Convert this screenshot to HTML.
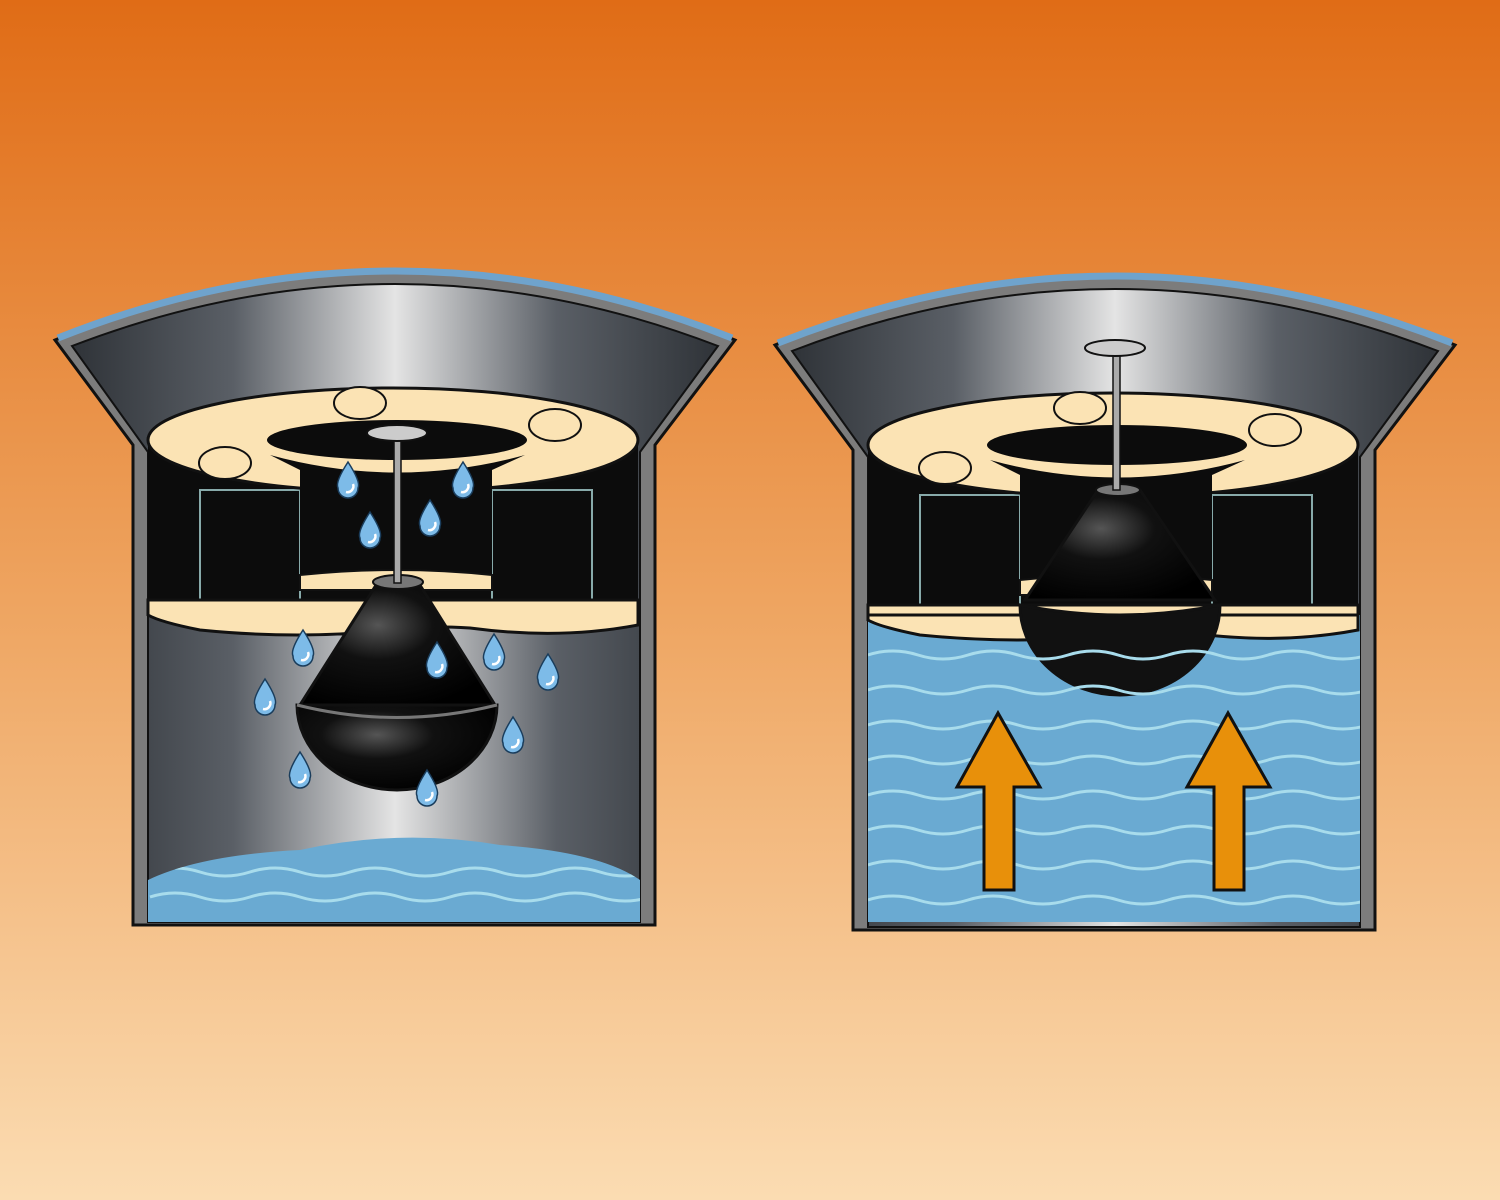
<!DOCTYPE html>
<html><head><meta charset="utf-8"><style>html,body{margin:0;padding:0;width:1500px;height:1200px;overflow:hidden}</style></head>
<body>
<svg width="1500" height="1200" viewBox="0 0 1500 1200" xmlns="http://www.w3.org/2000/svg">
<defs>
<linearGradient id="bg" x1="0" y1="0" x2="0" y2="1">
<stop offset="0" stop-color="#e06c16"/><stop offset="0.5" stop-color="#eea460"/><stop offset="1" stop-color="#fbdcb2"/>
</linearGradient>
<linearGradient id="inner" x1="0" y1="0" x2="1" y2="0">
<stop offset="0" stop-color="#2f3338"/><stop offset="0.25" stop-color="#5a5f66"/><stop offset="0.5" stop-color="#e4e4e4"/><stop offset="0.75" stop-color="#5a5f66"/><stop offset="1" stop-color="#2f3338"/>
</linearGradient>
<radialGradient id="ball" cx="0.4" cy="0.35" r="0.7">
<stop offset="0" stop-color="#555"/><stop offset="0.4" stop-color="#111"/><stop offset="1" stop-color="#000"/>
</radialGradient>
<clipPath id="rw"><rect x="868" y="615" width="492" height="307"/></clipPath>
<clipPath id="lw"><path d="M148,880 Q200,855 300,850 Q400,828 500,845 Q600,852 640,880 L640,922 L148,922Z"/></clipPath>
<g id="drop"><path d="M0,-18 Q13,2 10,8 A10,10 0 0 1 -10,8 Q-13,2 0,-18Z" fill="#7dbbe8" stroke="#1a3d5c" stroke-width="1.5"/><path d="M5,4 A6,6 0 0 1 -2,12" stroke="#fff" stroke-width="2.5" fill="none"/></g>
<g id="unit">
<path d="M55,340 Q395,200 735,340 L655,445 L655,925 L133,925 L133,445 Z" fill="#7c7c7c" stroke="#111" stroke-width="3"/>
<path d="M72,346 Q395,222 718,346 L640,452 L640,922 L148,922 L148,452 Z" fill="url(#inner)" stroke="#111" stroke-width="2"/>
<path d="M58,338 Q395,204 732,338" fill="none" stroke="#6fa3cc" stroke-width="7"/>
<rect x="148" y="440" width="490" height="170" fill="#0c0c0c"/>
<rect x="200" y="490" width="100" height="125" fill="#0c0c0c" stroke="#8aa" stroke-width="2"/>
<rect x="492" y="490" width="100" height="125" fill="#0c0c0c" stroke="#8aa" stroke-width="2"/>
<ellipse cx="393" cy="440" rx="245" ry="52" fill="#fbe3b4" stroke="#111" stroke-width="3"/>
<ellipse cx="397" cy="440" rx="130" ry="20" fill="#0c0c0c"/>
<path d="M270,455 L300,470 L300,585 L492,585 L492,470 L525,455 Q397,490 270,455Z" fill="#0c0c0c"/>
<path d="M148,600 L638,600 L638,625 Q560,640 470,628 Q420,625 390,630 Q300,640 200,630 Q160,622 148,615Z" fill="#fbe3b4" stroke="#111" stroke-width="3"/>
<path d="M300,575 Q397,565 492,575 L492,590 L300,590Z" fill="#fbe3b4" stroke="#111" stroke-width="2"/>
<ellipse cx="225" cy="463" rx="26" ry="16" fill="#fbe3b4" stroke="#111" stroke-width="2"/>
<ellipse cx="360" cy="403" rx="26" ry="16" fill="#fbe3b4" stroke="#111" stroke-width="2"/>
<ellipse cx="555" cy="425" rx="26" ry="16" fill="#fbe3b4" stroke="#111" stroke-width="2"/>
</g>
</defs>
<rect width="1500" height="1200" fill="url(#bg)"/>

<use href="#unit"/>
<path d="M148,880 Q200,855 300,850 Q400,828 500,845 Q600,852 640,880 L640,922 L148,922Z" fill="#6aaad2"/>
<g stroke="#a8dcec" stroke-width="3" fill="none" clip-path="url(#lw)">
<path d="M150,872 q25,-8 50,0 t50,0 t50,0 t50,0 t50,0 t50,0 t50,0 t50,0 t50,0 t50,0"/>
<path d="M150,897 q25,-8 50,0 t50,0 t50,0 t50,0 t50,0 t50,0 t50,0 t50,0 t50,0 t50,0"/>
</g>
<path d="M378,582 L300,705 L495,705 L418,582Z" fill="url(#ball)" stroke="#111" stroke-width="3"/>
<path d="M297,705 A100,85 0 0 0 497,705Z" fill="url(#ball)" stroke="#111" stroke-width="3"/>
<path d="M297,705 Q397,730 497,705" stroke="#777" stroke-width="3" fill="none"/>
<ellipse cx="398" cy="582" rx="25" ry="7" fill="#777" stroke="#111" stroke-width="2"/>
<rect x="394" y="435" width="7" height="148" fill="#aaa" stroke="#111" stroke-width="1.5"/>
<ellipse cx="397" cy="433" rx="30" ry="8" fill="#ccc" stroke="#111" stroke-width="2"/>
<use href="#drop" x="348" y="480"/><use href="#drop" x="463" y="480"/><use href="#drop" x="370" y="530"/><use href="#drop" x="430" y="518"/>
<use href="#drop" x="303" y="648"/><use href="#drop" x="437" y="660"/><use href="#drop" x="494" y="652"/><use href="#drop" x="548" y="672"/>
<use href="#drop" x="265" y="697"/><use href="#drop" x="513" y="735"/><use href="#drop" x="300" y="770"/><use href="#drop" x="427" y="788"/>

<use href="#unit" x="720" y="5"/>
<rect x="868" y="615" width="492" height="307" fill="#6aaad2"/>
<path d="M868,615 L1358,615 L1358,630 Q1280,645 1190,633 Q1140,630 1110,635 Q1020,645 920,635 Q880,627 868,620Z" fill="#fbe3b4" stroke="#111" stroke-width="3"/>
<path d="M1098,490 L1025,600 L1215,600 L1140,490Z" fill="url(#ball)" stroke="#111" stroke-width="3"/>
<path d="M1020,605 Q1120,625 1220,605 A100,90 0 0 1 1020,605Z" fill="#111" stroke="#111" stroke-width="3"/>
<ellipse cx="1118" cy="490" rx="22" ry="6" fill="#777" stroke="#111" stroke-width="2"/>
<rect x="1113" y="355" width="7" height="135" fill="#aaa" stroke="#111" stroke-width="1.5"/>
<ellipse cx="1115" cy="348" rx="30" ry="8" fill="#ccc" stroke="#111" stroke-width="2"/>
<g stroke="#a8dcec" stroke-width="3" fill="none" clip-path="url(#rw)">
<path d="M868,655 q25,-8 50,0 t50,0 t50,0 t50,0 t50,0 t50,0 t50,0 t50,0 t50,0 t50,0"/>
<path d="M868,690 q25,-8 50,0 t50,0 t50,0 t50,0 t50,0 t50,0 t50,0 t50,0 t50,0 t50,0"/>
<path d="M868,725 q25,-8 50,0 t50,0 t50,0 t50,0 t50,0 t50,0 t50,0 t50,0 t50,0 t50,0"/>
<path d="M868,760 q25,-8 50,0 t50,0 t50,0 t50,0 t50,0 t50,0 t50,0 t50,0 t50,0 t50,0"/>
<path d="M868,795 q25,-8 50,0 t50,0 t50,0 t50,0 t50,0 t50,0 t50,0 t50,0 t50,0 t50,0"/>
<path d="M868,830 q25,-8 50,0 t50,0 t50,0 t50,0 t50,0 t50,0 t50,0 t50,0 t50,0 t50,0"/>
<path d="M868,865 q25,-8 50,0 t50,0 t50,0 t50,0 t50,0 t50,0 t50,0 t50,0 t50,0 t50,0"/>
<path d="M868,900 q25,-8 50,0 t50,0 t50,0 t50,0 t50,0 t50,0 t50,0 t50,0 t50,0 t50,0"/>
</g>
<polygon points="984,890 1014,890 1014,787 1040,787 998,713 957,787 984,787" fill="#e8900a" stroke="#111" stroke-width="3"/>
<polygon points="1214,890 1244,890 1244,787 1270,787 1228,713 1187,787 1214,787" fill="#e8900a" stroke="#111" stroke-width="3"/>
</svg>
</body></html>
